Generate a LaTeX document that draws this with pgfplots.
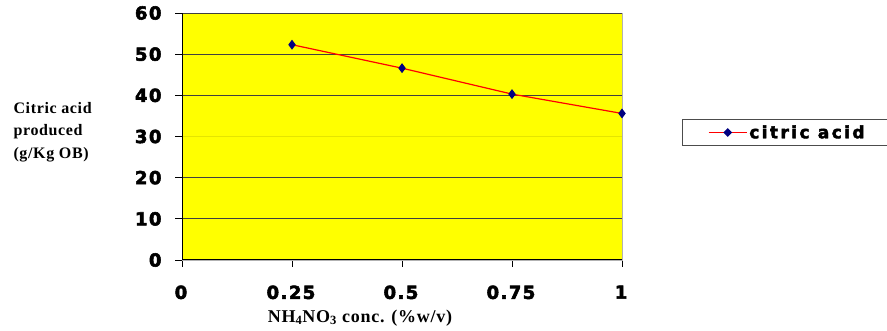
\documentclass[border=0pt]{standalone}
\usepackage{fontspec}
\setmainfont{Liberation Serif}
\newfontfamily\tickfont[LetterSpace=8,FakeBold=3]{DejaVu Sans}
\newfontfamily\legfont[LetterSpace=14,FakeBold=2.5]{DejaVu Sans}
\newfontfamily\labfont[LetterSpace=4]{Liberation Serif}
\usepackage{pgfplots}
\pgfplotsset{compat=1.18}
\definecolor{plotyellow}{RGB}{255,255,0}
\definecolor{mknavy}{RGB}{0,0,128}
\begin{document}
\begin{tikzpicture}[x=1pt,y=1pt]
\path[use as bounding box] (0,0) rectangle (887,331);
\begin{axis}[
  at={(182pt,71pt)}, anchor=south west,
  scale only axis, width=440pt, height=247pt,
  xmin=0, xmax=1, ymin=0, ymax=60,
  xtick={0,0.25,0.5,0.75,1},
  xticklabels={0,0.25,0.5,0.75,1},
  ytick={0,10,20,30,40,50,60},
  xtick pos=bottom, ytick pos=left,
  /pgf/number format/assume math mode=true,
  ticklabel style={font=\tickfont\bfseries\fontsize{18}{18}\selectfont},
  xticklabel style={yshift=-15pt, xshift=-1pt},
  yticklabel style={xshift=-10pt},
  tick align=outside, major tick length=7pt,
  tick style={black, line width=0.8pt},
  axis background/.style={fill=plotyellow},
  axis line style={draw=gray!60, line width=0.6pt},
  clip=false,
  legend style={at={(1.136,0.516)}, anchor=west, draw=black!70, line width=0.6pt,
    font=\legfont\bfseries\fontsize{17}{17}\selectfont, inner xsep=26pt, inner ysep=4pt,
    legend cell align=left},
  legend image code/.code={
    \draw[red, line width=1.2pt] (0pt,0pt) -- (38pt,0pt);
    \fill[mknavy] (19pt,3.5pt) -- (22.5pt,0pt) -- (19pt,-3.5pt) -- (15.5pt,0pt) -- cycle;
  },
]
\draw[black!75, line width=0.8pt] (axis cs:0,10) -- (axis cs:1,10);
\draw[black!75, line width=0.8pt] (axis cs:0,20) -- (axis cs:1,20);
\draw[black!10!plotyellow, line width=0.8pt] (axis cs:0,30) -- (axis cs:1,30);
\draw[black!75, line width=0.8pt] (axis cs:0,40) -- (axis cs:1,40);
\draw[black!75, line width=0.8pt] (axis cs:0,50) -- (axis cs:1,50);
\draw[black!75, line width=0.8pt] (axis cs:0,60) -- (axis cs:1,60);
\addplot[red, line width=1.2pt, mark=diamond*, mark size=4pt,
  mark options={fill=mknavy, draw=mknavy}] coordinates {
  (0.25,52.3) (0.5,46.6) (0.75,40.3) (1,35.6)
};
\addlegendentry{citric acid}
\draw[black, line width=1pt] (axis cs:0,0) -- (axis cs:0,60);
\draw[black, line width=1pt] (axis cs:0,0) -- (axis cs:1,0);
\end{axis}
\node[anchor=west, align=left, font=\labfont\bfseries\fontsize{16}{22.5}\selectfont] at (10,199) {Citric acid\\produced\\(g/Kg OB)};
\node[font=\labfont\bfseries\fontsize{18}{18}\selectfont] at (360,13) {NH\textsubscript{4}NO\textsubscript{3} conc. (\%w/v)};
\end{tikzpicture}
\end{document}
